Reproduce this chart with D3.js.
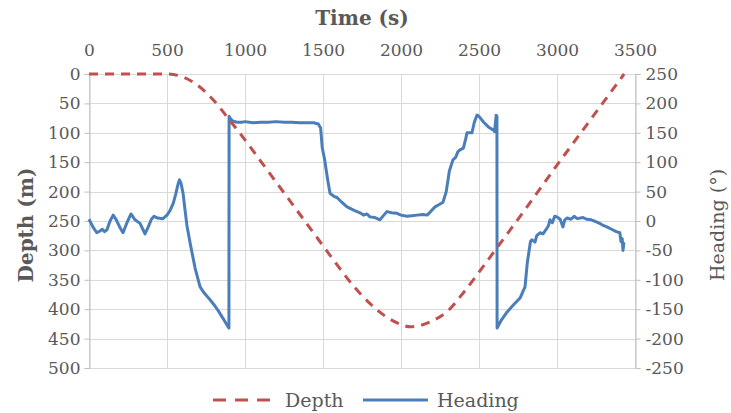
<!DOCTYPE html>
<html>
  <head>
    <title> Depth and heading </title>
    <script src="https://cdn.jsdelivr.net/npm/d3@7/dist/d3.min.js"></script>
    <style>
      body { margin: 0; background: white; }
      text { font-family: "DejaVu Serif", serif; fill: #595959; }
      .grid line { stroke: #d9d9d9; stroke-width: 1; }
    </style>
  </head>
  <body>
    <script>
      // time ticks (s) and axis ticks
      var timeTicks = [0, 500, 1000, 1500, 2000, 2500, 3000, 3500];
      var depthTicks = [0, 50, 100, 150, 200, 250, 300, 350, 400, 450, 500];
      var headingTicks = [250, 200, 150, 100, 50, 0, -50, -100, -150, -200, -250];

      // depth profile
      var depthTime = [0, 250, 500, 600, 700, 800, 900, 1000, 1100, 1200, 1300, 1400, 1500, 1600, 1700, 1800, 1900, 2000, 2060, 2100, 2200, 2300, 2400, 2500, 2600, 2700, 2800, 2900, 3000, 3100, 3200, 3300, 3400, 3430];
      var depthValue = [0, 0, 0, 5, 20, 45, 78, 112, 148, 184, 220, 256, 292, 328, 362, 390, 412, 426, 430, 429, 420, 403, 372, 337, 301, 265, 229, 192, 155, 119, 83, 47, 11, 0];

      // heading
      var headingTime = [0, 25, 50, 70, 85, 100, 115, 135, 155, 175, 200, 218, 240, 269, 295, 327, 345, 359, 380, 400, 417, 440, 474, 500, 520, 540, 555, 570, 580, 590, 603, 615, 628, 650, 680, 712, 740, 776, 800, 827, 860, 891, 897,
        898, 905, 920, 949, 980, 1000, 1050, 1100, 1150, 1200, 1250, 1300, 1350, 1400, 1440, 1470, 1485, 1495, 1510, 1530, 1545, 1570, 1590, 1620, 1654, 1700, 1737, 1760, 1782, 1801, 1830, 1865, 1890, 1910, 1940, 1974, 2000, 2038, 2070, 2103, 2140, 2167, 2190, 2218, 2245, 2269, 2290, 2310, 2333, 2350, 2365, 2378, 2400, 2415, 2423, 2455, 2470, 2487, 2500, 2530, 2560, 2590, 2600, 2610, 2615,
        2616, 2640, 2679, 2720, 2763, 2795, 2810, 2830, 2840, 2859, 2870, 2891, 2910, 2936, 2945, 2955, 2970, 2985, 3000, 3020, 3038, 3050, 3064, 3090, 3110, 3130, 3167, 3190, 3220, 3256, 3280, 3300, 3320, 3350, 3380, 3403, 3410, 3418, 3423, 3429];
      var headingValue = [3, -10, -20, -17, -14, -18, -15, 0, 10, 2, -12, -20, -5, 12, 2, -4, -14, -22, -10, 3, 8, 5, 4, 10, 18, 30, 45, 62, 70, 64, 47, 20, -8, -40, -80, -112, -123, -134, -142, -152, -166, -180, -182,
        178, 175, 170, 168, 168, 169, 167, 168, 168, 169, 168, 168, 167, 167, 167, 165, 158, 125, 105, 70, 47, 42, 40, 32, 24, 18, 14, 10, 12, 7, 6, 2, 10, 16, 14, 13, 10, 8, 9, 10, 11, 10, 16, 24, 28, 32, 50, 85, 104, 108, 118, 121, 124, 140, 150, 150, 168, 180, 178, 168, 160, 155, 152, 180, 178,
        -182, -170, -155, -143, -131, -112, -70, -35, -32, -36, -25, -20, -22, -12, -8, 2, -3, 8, 7, 3, -10, 2, 5, 3, 8, 4, 6, 3, 2, -2, -5, -8, -10, -14, -18, -20, -35, -30, -50, -36];

      var mLeft = 89, mRight = 635, mTop = 74, mBottom = 368;

      var svg = d3.select("body").append("svg").attr("width", 731).attr("height", 413);

      var x = d3.scaleLinear().domain([0, 3500]).range([mLeft, mRight]);
      var yDepth = d3.scaleLinear().domain([0, 500]).range([mTop, mBottom]);
      var yHead = d3.scaleLinear().domain([250, -250]).range([mTop, mBottom]);
      var plain = function(d){ return String(d); };

      // grid
      var grid = svg.append("g").attr("class", "grid");
      grid.selectAll(".h").data(depthTicks).enter().append("line")
        .attr("x1", mLeft).attr("x2", mRight)
        .attr("y1", function(d){ return Math.round(yDepth(d)) + 0.5; })
        .attr("y2", function(d){ return Math.round(yDepth(d)) + 0.5; });
      grid.selectAll(".v").data(timeTicks).enter().append("line")
        .attr("y1", mTop).attr("y2", mBottom)
        .attr("x1", function(d){ return Math.round(x(d)) + 0.5; })
        .attr("x2", function(d){ return Math.round(x(d)) + 0.5; });

      // axes
      var axTop = svg.append("g").attr("transform", "translate(0," + mTop + ")")
        .call(d3.axisTop(x).tickValues(timeTicks).tickFormat(plain).tickSize(0).tickPadding(18));
      var axLeft = svg.append("g").attr("transform", "translate(" + (mLeft + 0.5) + ",0)")
        .call(d3.axisLeft(yDepth).tickValues(depthTicks).tickFormat(plain).tickSize(5).tickPadding(4));
      var axRight = svg.append("g").attr("transform", "translate(" + (mRight + 0.5) + ",0)")
        .call(d3.axisRight(yHead).tickValues(headingTicks).tickFormat(plain).tickSize(5).tickPadding(5));
      [axTop, axLeft, axRight].forEach(function(a){
        a.select(".domain").attr("stroke", "#bfbfbf");
        a.selectAll(".tick line").attr("stroke", "#bfbfbf");
        a.selectAll("text").attr("font-family", "DejaVu Serif").attr("font-size", 17).attr("fill", "#595959");
      });
      axTop.select(".domain").remove();

      // lines
      var depthData = depthTime.map(function(t, i){ return [t, depthValue[i]]; });
      var headData = headingTime.map(function(t, i){ return [t, headingValue[i]]; });

      svg.append("path").datum(headData)
        .attr("fill", "none").attr("stroke", "#4a7ebb").attr("stroke-width", 3).attr("stroke-linejoin", "round")
        .attr("d", d3.line().x(function(d){ return x(d[0]); }).y(function(d){ return yHead(d[1]); }));

      svg.append("path").datum(depthData)
        .attr("fill", "none").attr("stroke", "#c0504d").attr("stroke-width", 3).attr("stroke-dasharray", "9,7")
        .attr("d", d3.line().curve(d3.curveMonotoneX).x(function(d){ return x(d[0]); }).y(function(d){ return yDepth(d[1]); }));

      // titles
      svg.append("text").attr("x", 362).attr("y", 25).attr("text-anchor", "middle")
        .attr("font-size", 20).attr("font-weight", "bold").attr("fill", "#404040").text("Time (s)");
      svg.append("text").attr("transform", "translate(33,225) rotate(-90)").attr("text-anchor", "middle")
        .attr("font-size", 20).attr("font-weight", "bold").attr("fill", "#404040").text("Depth (m)");
      svg.append("text").attr("transform", "translate(724,225) rotate(-90)").attr("text-anchor", "middle")
        .attr("font-size", 19).text("Heading (°)");

      // legend
      var legend = svg.append("g");
      legend.append("line").attr("x1", 213).attr("x2", 276).attr("y1", 400).attr("y2", 400)
        .attr("stroke", "#c0504d").attr("stroke-width", 3).attr("stroke-dasharray", "13,9");
      legend.append("text").attr("x", 285).attr("y", 407).attr("font-size", 19).text("Depth");
      legend.append("line").attr("x1", 363).attr("x2", 428).attr("y1", 400).attr("y2", 400)
        .attr("stroke", "#4a7ebb").attr("stroke-width", 3);
      legend.append("text").attr("x", 437).attr("y", 407).attr("font-size", 19).text("Heading");
    </script>
  </body>
</html>
